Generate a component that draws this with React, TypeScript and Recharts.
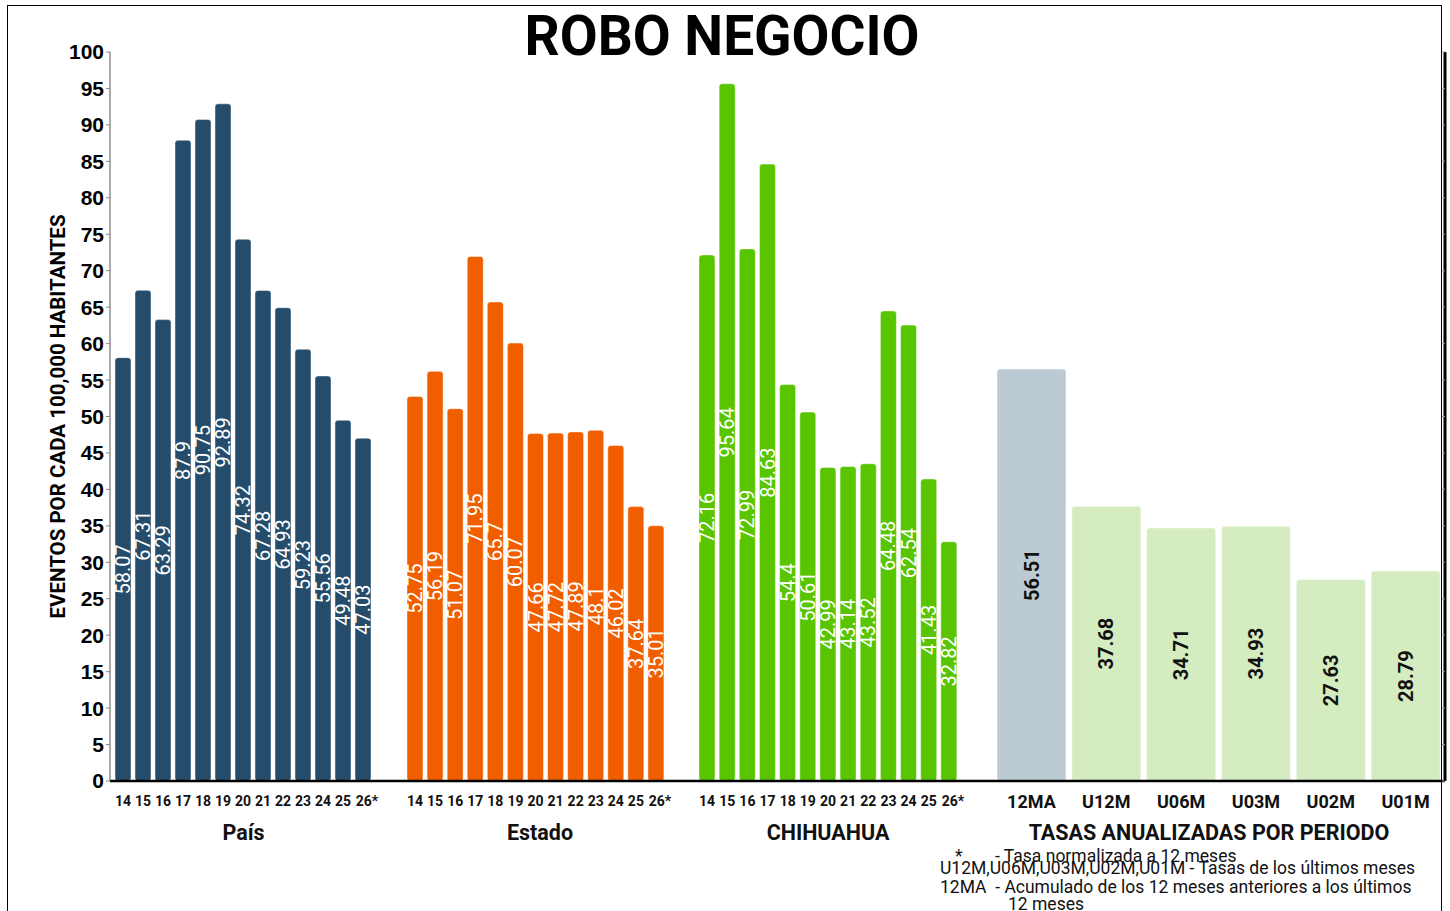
import { Bar, BarChart, Cell, LabelList, XAxis, YAxis } from "recharts";

const years = ["14", "15", "16", "17", "18", "19", "20", "21", "22", "23", "24", "25", "26*"];

const paisValues = [58.07, 67.31, 63.29, 87.9, 90.75, 92.89, 74.32, 67.28, 64.93, 59.23, 55.56, 49.48, 47.03];
const estadoValues = [52.75, 56.19, 51.07, 71.95, 65.7, 60.07, 47.66, 47.72, 47.89, 48.1, 46.02, 37.64, 35.01];
const chihuahuaValues = [72.16, 95.64, 72.99, 84.63, 54.4, 50.61, 42.99, 43.14, 43.52, 64.48, 62.54, 41.43, 32.82];

const periods = ["12MA", "U12M", "U06M", "U03M", "U02M", "U01M"];
const periodValues = [56.51, 37.68, 34.71, 34.93, 27.63, 28.79];

const yTicks = [0, 5, 10, 15, 20, 25, 30, 35, 40, 45, 50, 55, 60, 65, 70, 75, 80, 85, 90, 95, 100];

const footnotes = [
  "- Tasa normalizada a 12 meses",
  "U12M,U06M,U03M,U02M,U01M - Tasas de los últimos meses",
  "12MA  - Acumulado de los 12 meses anteriores a los últimos",
  "12 meses",
];

const toRows = (labels: string[], values: number[]) =>
  labels.map((label, i) => ({ label, value: values[i] }));

const FONT = "Roboto, 'Liberation Sans', sans-serif";
const CHART_TOP = 40;
const CHART_HEIGHT = 816;
const MARGIN_TOP = 12;
const X_AXIS_HEIGHT = 75;

// "26*" keeps its digits under the bar and lets the star hang to the right
function YearTick(props: any) {
  const { x, y, payload, fontSize } = props;
  const text = String(payload.value);
  const starred = text.endsWith("*");
  return (
    <text
      x={x + (starred ? 4 : 0)}
      y={y}
      dy="0.71em"
      textAnchor="middle"
      fill="#111"
      fontSize={fontSize}
      fontWeight={700}
      fontFamily={FONT}
    >
      {text}
    </text>
  );
}

type GroupChartProps = {
  data: { label: string; value: number }[];
  left: number;
  width: number;
  colors: string[];
  padding: { left: number; right: number };
  title: string;
  titleDx: number;
  barSize: number;
  tickFontSize: number;
  tickMargin: number;
  valueColor: string;
  valueWeight: string;
  leftAxis?: boolean;
  rightAxis?: boolean;
};

function GroupChart({
  data,
  left,
  width,
  colors,
  padding,
  title,
  titleDx,
  barSize,
  tickFontSize,
  tickMargin,
  valueColor,
  valueWeight,
  leftAxis,
  rightAxis,
}: GroupChartProps) {
  return (
    <div style={{ position: "absolute", left, top: CHART_TOP }}>
      <BarChart
        width={width}
        height={CHART_HEIGHT}
        data={data}
        margin={{ top: MARGIN_TOP, right: rightAxis ? 2 : 0, left: 0, bottom: 0 }}
      >
        <XAxis
          dataKey="label"
          interval={0}
          padding={padding}
          height={X_AXIS_HEIGHT}
          tickLine={false}
          tickMargin={tickMargin}
          axisLine={{ stroke: "#000", strokeWidth: 2.5 }}
          tick={<YearTick fontSize={tickFontSize} />}
          label={{
            value: title,
            position: "insideBottom",
            offset: 16,
            dx: titleDx,
            fill: "#111",
            fontSize: 21.5,
            fontWeight: 700,
            fontFamily: FONT,
          }}
        />
        {leftAxis ? (
          <YAxis
            domain={[0, 100]}
            ticks={yTicks}
            interval={0}
            width={110}
            tickSize={4}
            tickMargin={2}
            axisLine={{ stroke: "#555" }}
            tickLine={{ stroke: "#888" }}
            tick={{ fill: "#000", fontSize: 21, fontWeight: 700, fontFamily: "'Liberation Sans', Arial, sans-serif" }}
            label={{
              value: "EVENTOS POR CADA 100,000 HABITANTES",
              angle: -90,
              position: "center",
              dx: 3,
              fill: "#000",
              fontSize: 20.5,
              fontWeight: 700,
              fontFamily: FONT,
            }}
          />
        ) : rightAxis ? (
          <YAxis
            orientation="right"
            mirror
            domain={[0, 100]}
            ticks={yTicks}
            interval={0}
            width={4}
            tickSize={3}
            tickFormatter={() => ""}
            axisLine={{ stroke: "#000", strokeWidth: 3 }}
            tickLine={{ stroke: "#999" }}
          />
        ) : (
          <YAxis hide domain={[0, 100]} />
        )}
        <Bar
          dataKey="value"
          barSize={barSize}
          radius={3}
          stroke="rgba(255,255,255,0.45)"
          strokeWidth={1}
          isAnimationActive={false}
        >
          {data.map((row, i) => (
            <Cell key={row.label} fill={colors[i % colors.length]} />
          ))}
          <LabelList
            dataKey="value"
            position="center"
            angle={-90}
            fill={valueColor}
            fontSize={20}
            fontWeight={valueWeight}
            fontFamily={FONT}
          />
        </Bar>
      </BarChart>
    </div>
  );
}

const noteStyle = {
  position: "absolute" as const,
  fontSize: 17.5,
  lineHeight: "17.5px",
  color: "#111",
  whiteSpace: "pre" as const,
};

export default function App() {
  const tasaColors = periods.map((_, i) => (i === 0 ? "#bccbd3" : "#d5ebc0"));

  return (
    <div
      style={{
        position: "absolute",
        left: 0,
        top: 0,
        width: 1450,
        height: 911,
        overflow: "hidden",
        background: "#fff",
        fontFamily: FONT,
      }}
    >
      <div
        style={{
          position: "absolute",
          left: 7,
          top: 5,
          width: 1433,
          height: 940,
          border: "1.5px solid #000",
        }}
      />
      <div
        style={{
          position: "absolute",
          left: 0,
          width: 1444,
          top: 9,
          textAlign: "center",
          fontSize: 55,
          lineHeight: "55px",
          fontWeight: 700,
          color: "#000",
        }}
      >
        ROBO NEGOCIO
      </div>

      <GroupChart
        data={toRows(years, paisValues)}
        left={0}
        width={389}
        colors={["#254d6b"]}
        padding={{ left: 3, right: 16 }}
        title="País"
        titleDx={-6}
        barSize={16}
        tickFontSize={14}
        tickMargin={9}
        valueColor="#fff"
        valueWeight="400"
        leftAxis
      />
      <GroupChart
        data={toRows(years, estadoValues)}
        left={389}
        width={292}
        colors={["#f05e00"]}
        padding={{ left: 16, right: 15 }}
        title="Estado"
        titleDx={5}
        barSize={16}
        tickFontSize={14}
        tickMargin={9}
        valueColor="#fff"
        valueWeight="400"
      />
      <GroupChart
        data={toRows(years, chihuahuaValues)}
        left={681}
        width={296}
        colors={["#59c400"]}
        padding={{ left: 16, right: 18 }}
        title="CHIHUAHUA"
        titleDx={-1}
        barSize={16}
        tickFontSize={14}
        tickMargin={9}
        valueColor="#fff"
        valueWeight="400"
      />
      <GroupChart
        data={toRows(periods, periodValues)}
        left={977}
        width={470}
        colors={tasaColors}
        padding={{ left: 17, right: 2 }}
        title="TASAS ANUALIZADAS POR PERIODO"
        titleDx={-2}
        barSize={69}
        tickFontSize={18}
        tickMargin={8}
        valueColor="#111"
        valueWeight="700"
        rightAxis
      />

      <div style={{ ...noteStyle, left: 955, top: 848 }}>*</div>
      <div style={{ ...noteStyle, left: 995, top: 848 }}>{footnotes[0]}</div>
      <div style={{ ...noteStyle, left: 940, top: 860 }}>{footnotes[1]}</div>
      <div style={{ ...noteStyle, left: 940, top: 879 }}>{footnotes[2]}</div>
      <div style={{ ...noteStyle, left: 1008, top: 896 }}>{footnotes[3]}</div>
    </div>
  );
}
